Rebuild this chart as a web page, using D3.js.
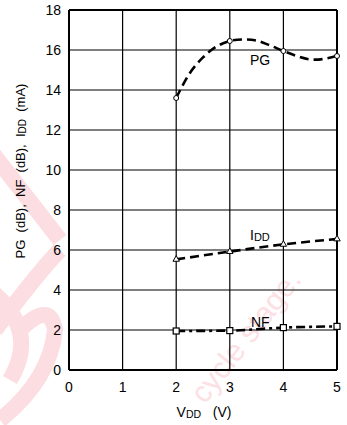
<!DOCTYPE html>
<html>
<head>
<meta charset="utf-8">
<script src="https://cdn.jsdelivr.net/npm/d3@7"></script>
<style>
  body { margin: 0; background: #fff; }
  text { font-family: "Liberation Sans", Arial, sans-serif; fill: #000; }
</style>
</head>
<body>
<div id="chart"></div>
<script>
const width = 347, height = 425;

// measured points
const vdd = [2, 3, 4, 5];
const pg = [13.6, 16.45, 15.95, 15.7];
const idd = [5.53, 5.92, 6.28, 6.55];
const nf = [1.95, 1.97, 2.12, 2.18];

// PG curve
const pgCurveX = [2, 2.25, 2.5, 2.75, 3, 3.25, 3.5, 3.75, 4, 4.25, 4.5, 4.75, 5];
const pgCurveY = [13.6, 14.83, 15.63, 16.17, 16.45, 16.53, 16.47, 16.23, 15.95, 15.7, 15.53, 15.55, 15.7];

const xTicks = [0, 1, 2, 3, 4, 5];
const yTicks = [0, 2, 4, 6, 8, 10, 12, 14, 16, 18];

const margin = {left: 69, right: 10, top: 10, bottom: 55};

const x = d3.scaleLinear().domain([0, 5]).range([margin.left, width - margin.right]);
const y = d3.scaleLinear().domain([0, 18]).range([height - margin.bottom, margin.top]);

const svg = d3.select("#chart").append("svg")
    .attr("width", width)
    .attr("height", height);

// faint watermark
const wm = svg.append("g").attr("fill", "none").attr("stroke", "#fcdde1").attr("stroke-width", 16);
wm.append("path").attr("d", "M-10,150 L60,240 M-5,330 Q40,270 60,250 M0,420 Q50,380 55,330 Q50,300 20,330");
wm.append("path").attr("d", "M-10,290 Q40,330 10,380");
svg.append("text")
    .attr("transform", "translate(205,405) rotate(-52)")
    .attr("font-size", 30)
    .style("fill", "#fde0e4")
    .text("cycle stage.");

// grid
svg.append("g").selectAll("line").data(xTicks)
  .enter().append("line")
    .attr("x1", d => x(d)).attr("x2", d => x(d))
    .attr("y1", y(0)).attr("y2", y(18))
    .attr("stroke", "#000").attr("stroke-width", d => (d == 0 || d == 5) ? 2 : 1.2);

svg.append("g").selectAll("line").data(yTicks)
  .enter().append("line")
    .attr("x1", x(0)).attr("x2", x(5))
    .attr("y1", d => y(d)).attr("y2", d => y(d))
    .attr("stroke", "#000").attr("stroke-width", d => (d == 0 || d == 18) ? 2 : 1.2);

// tick labels
svg.append("g").selectAll("text").data(yTicks)
  .enter().append("text")
    .attr("x", x(0) - 8)
    .attr("y", d => y(d) + 5)
    .attr("text-anchor", "end")
    .attr("font-size", 14)
    .text(d => d);

svg.append("g").selectAll("text").data(xTicks)
  .enter().append("text")
    .attr("x", d => x(d))
    .attr("y", y(0) + 22)
    .attr("text-anchor", "middle")
    .attr("font-size", 14)
    .text(d => d);

// lines
const line = d3.line().x(d => x(d[0])).y(d => y(d[1]));

svg.append("path")
    .datum(d3.zip(pgCurveX, pgCurveY))
    .attr("d", line.curve(d3.curveCatmullRom))
    .attr("fill", "none").attr("stroke", "#000")
    .attr("stroke-width", 2.6).attr("stroke-dasharray", "9,5");

const straight = d3.line().x(d => x(d[0])).y(d => y(d[1])).curve(d3.curveMonotoneX);

svg.append("path")
    .datum(d3.zip(vdd, idd))
    .attr("d", straight)
    .attr("fill", "none").attr("stroke", "#000")
    .attr("stroke-width", 2.6).attr("stroke-dasharray", "9,5");

svg.append("path")
    .datum(d3.zip(vdd, nf))
    .attr("d", straight)
    .attr("fill", "none").attr("stroke", "#000")
    .attr("stroke-width", 2.6).attr("stroke-dasharray", "9,4,3,4");

// markers
svg.append("g").selectAll("circle").data(d3.zip(vdd, pg))
  .enter().append("circle")
    .attr("cx", d => x(d[0])).attr("cy", d => y(d[1]))
    .attr("r", 2.5)
    .attr("fill", "#fff").attr("stroke", "#000").attr("stroke-width", 1);

svg.append("g").selectAll("path").data(d3.zip(vdd, idd))
  .enter().append("path")
    .attr("d", d3.symbol(d3.symbolTriangle, 18))
    .attr("transform", d => `translate(${x(d[0])},${y(d[1])})`)
    .attr("fill", "#fff").attr("stroke", "#000").attr("stroke-width", 1);

svg.append("g").selectAll("rect").data(d3.zip(vdd, nf))
  .enter().append("rect")
    .attr("x", d => x(d[0]) - 3).attr("y", d => y(d[1]) - 3)
    .attr("width", 6).attr("height", 6)
    .attr("fill", "#fff").attr("stroke", "#000").attr("stroke-width", 1.2);

// series labels
svg.append("text").attr("x", 250).attr("y", 65).attr("font-size", 14).text("PG");

const iddLabel = svg.append("text").attr("x", 250).attr("y", 240).attr("font-size", 14);
iddLabel.append("tspan").text("I");
iddLabel.append("tspan").attr("font-size", 11).attr("dy", 1).text("DD");

svg.append("text").attr("x", 251).attr("y", 327).attr("font-size", 14).text("NF");

// axis titles
const xt = svg.append("text")
    .attr("x", 204).attr("y", 417)
    .attr("text-anchor", "middle")
    .attr("font-size", 14);
xt.append("tspan").text("V");
xt.append("tspan").attr("font-size", 10.5).attr("dy", 1).text("DD");
xt.append("tspan").attr("dy", -1).text("\u00a0\u00a0\u00a0(V)");

const yt = svg.append("text")
    .attr("transform", "translate(25,171) rotate(-90)")
    .attr("text-anchor", "middle")
    .attr("font-size", 13);
yt.append("tspan").text("PG\u00a0\u00a0(dB),\u00a0\u00a0NF\u00a0\u00a0(dB),\u00a0\u00a0I");
yt.append("tspan").attr("font-size", 10).attr("dy", 1).text("DD");
yt.append("tspan").attr("dy", -1).text("\u00a0\u00a0(mA)");
</script>
</body>
</html>
